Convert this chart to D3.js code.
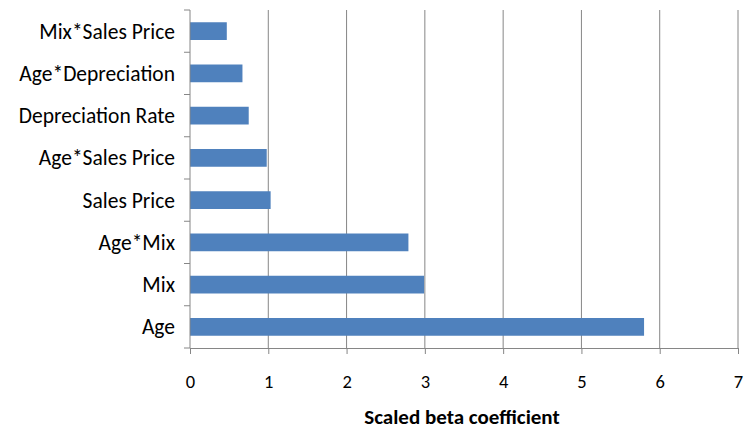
<!DOCTYPE html>
<html>
<head>
<meta charset="utf-8">
<script src="https://cdn.jsdelivr.net/npm/d3@7"></script>
<style>
  body { margin: 0; background: #fff; }
  svg text { font-family: Carlito, Calibri, Lato, sans-serif; fill: #000; }
</style>
</head>
<body>
<div id="chart"></div>
<script>
// categories top to bottom
const categories = ['Mix*Sales Price', 'Age*Depreciation', 'Depreciation Rate', 'Age*Sales Price',
                    'Sales Price', 'Age*Mix', 'Mix', 'Age'];
const betaValues = [0.47, 0.67, 0.75, 0.98, 1.03, 2.79, 2.99, 5.8];
const xTicks = [0, 1, 2, 3, 4, 5, 6, 7];
const xTitle = 'Scaled beta coefficient';

const width = 748, height = 430;
const margin = { top: 10, right: 10, bottom: 82, left: 190 };

const svg = d3.select('#chart').append('svg')
    .attr('width', width)
    .attr('height', height);

const x = d3.scaleLinear()
    .domain([0, 7])
    .range([margin.left, width - margin.right]);

const y = d3.scaleBand()
    .domain(categories)
    .range([margin.top, height - margin.bottom])
    .paddingInner(0.58)
    .paddingOuter(0.29);

const grid = '#868686';

// vertical gridlines
svg.append('g')
    .selectAll('line')
    .data(xTicks.slice(1))
    .join('line')
    .attr('x1', d => x(d)).attr('x2', d => x(d))
    .attr('y1', margin.top).attr('y2', height - margin.bottom)
    .attr('stroke', grid)
    .attr('stroke-width', 1);

// bars
svg.append('g')
    .selectAll('rect')
    .data(categories)
    .join('rect')
    .attr('x', x(0))
    .attr('y', d => y(d))
    .attr('width', (d, i) => x(betaValues[i]) - x(0))
    .attr('height', y.bandwidth())
    .attr('fill', '#4F81BD');

// x axis
const xAxis = svg.append('g')
    .attr('transform', `translate(0, ${height - margin.bottom})`)
    .call(d3.axisBottom(x).tickValues(xTicks).tickSize(6).tickPadding(21).tickFormat(d3.format('d')));
xAxis.select('.domain').attr('stroke', grid);
xAxis.selectAll('.tick line').attr('stroke', grid);
xAxis.selectAll('text').style('font-size', '18.5px');

// y axis
const yStep = y.step();
const yAxis = svg.append('g')
    .attr('transform', `translate(${margin.left}, 0)`);
yAxis.append('line')
    .attr('x1', 0).attr('x2', 0)
    .attr('y1', margin.top).attr('y2', height - margin.bottom)
    .attr('stroke', grid);
yAxis.selectAll('.ytick')
    .data(d3.range(categories.length + 1))
    .join('line')
    .attr('x1', -6).attr('x2', 0)
    .attr('y1', i => margin.top + i * yStep)
    .attr('y2', i => margin.top + i * yStep)
    .attr('stroke', grid);
yAxis.selectAll('.ylabel')
    .data(categories)
    .join('text')
    .attr('x', -15)
    .attr('y', d => y(d) + y.bandwidth() / 2)
    .attr('dy', '0.35em')
    .attr('text-anchor', 'end')
    .style('font-size', '21.5px')
    .text(d => d);

// axis title
svg.append('text')
    .attr('x', x(3.5) - 2)
    .attr('y', 424)
    .attr('text-anchor', 'middle')
    .style('font-size', '21px')
    .style('font-weight', 'bold')
    .text(xTitle);
</script>
</body>
</html>
